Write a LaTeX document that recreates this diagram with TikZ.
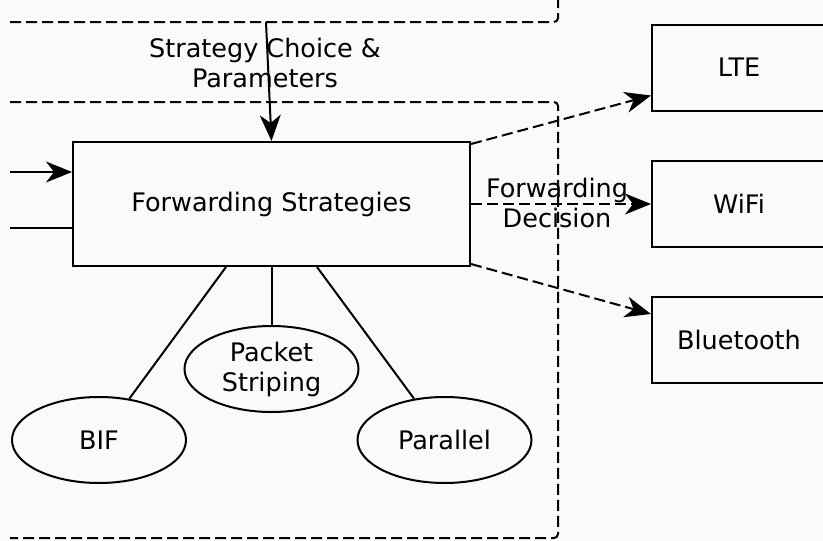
\documentclass[tikz,border=0pt]{standalone}
\usepackage{fontspec}
\setmainfont{DejaVu Sans}
\usetikzlibrary{arrows.meta,shapes.geometric,calc}
\definecolor{bgcol}{HTML}{FAFAFA}
\tikzset{
  txt/.style={font=\fontsize{25.5}{30}\selectfont},
  lbl/.style={txt, align=center, inner sep=0pt},
  block/.style={draw, rectangle, txt, inner sep=0pt},
  iface/.style={block, minimum width=174pt, minimum height=86pt},
  strat/.style={draw, ellipse, txt, align=center,
                inner sep=0pt, minimum width=174pt, minimum height=86pt},
  region/.style={dash pattern=on 11pt off 5pt, rounded corners=4pt},
  arr/.style={-{Stealth[length=26pt,width=21pt,inset=8pt]}},
  darr/.style={arr, dash pattern=on 11pt off 5pt},
}
\begin{document}
\begin{tikzpicture}[x=1pt,y=-1pt,line width=2pt]
  \fill[bgcol] (0,0) rectangle (823,541);
  \useasboundingbox (0,0) rectangle (823,541);
  \clip (0,0) rectangle (823,541);

  % dashed regions
  \draw[region] (10,22) -- (558,22) -- (558,-8);
  \draw[region] (10,102) -- (558,102) -- (558,538) -- (10,538);

  % main block
  \node[block, minimum width=397pt, minimum height=124pt] (fs) at (271.5,204) {Forwarding Strategies};

  % strategies
  \node[strat] (bif) at (99,440) {BIF};
  \node[strat] (ps)  at (271.5,369) {Packet\\Striping};
  \node[strat] (par) at (444.5,440) {Parallel};

  % interfaces
  \node[iface] (lte)  at (739,67.5) {LTE};
  \node[iface] (wifi) at (739,204) {WiFi};
  \node[iface] (bt)   at (739,340) {Bluetooth};

  % labels
  \node[lbl] (sc) at (265,63) {Strategy Choice \&\\Parameters};
  \node[lbl] (fd) at (557,203) {Forwarding\\Decision};

  % inputs
  \coordinate (ctl) at (266,22);
  \coordinate (in1) at (10,172);
  \coordinate (in2) at (10,228);
  \draw[arr] (ctl) -- (fs.north);
  \draw[arr] (in1) -- (fs.west |- in1);
  \draw (in2) -- (fs.west |- in2);

  % strategy links
  \draw ($(fs.south)+(-45.5,0)$) -- (bif);
  \draw (fs.south) -- (ps.north);
  \draw ($(fs.south)+(45.5,0)$) -- (par);

  % forwarding decisions
  \draw[darr] ($(fs.north east)+(0,3)$) -- ($(lte.south west)+(0,-16)$);
  \draw[darr] (fs.east) -- (wifi.west);
  \draw[darr] ($(fs.south east)+(0,-3)$) -- ($(bt.north west)+(0,18)$);
\end{tikzpicture}
\end{document}
